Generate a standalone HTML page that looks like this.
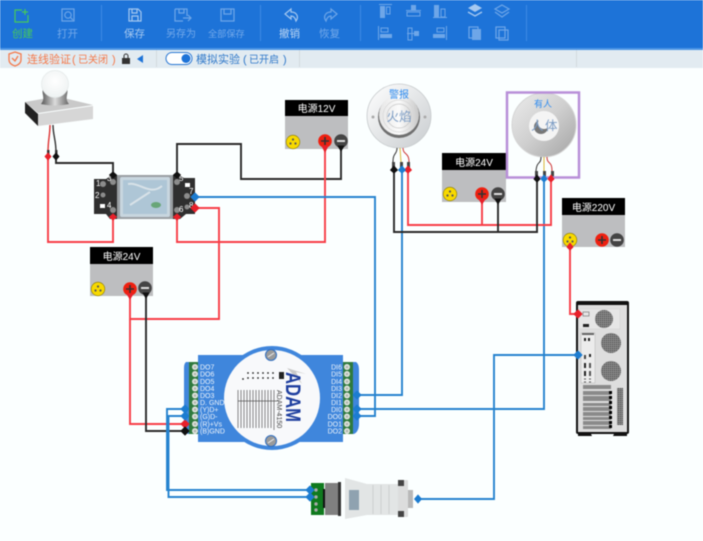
<!DOCTYPE html>
<html><head><meta charset="utf-8"><style>
html,body{margin:0;padding:0;background:#fbffff;width:703px;height:541px;overflow:hidden}
svg{display:block;filter:blur(.5px)}
text{font-family:"Liberation Sans","Noto Sans CJK SC",sans-serif}
.w{fill:none;stroke-width:1.9}
.r{stroke:#f73d47}.k{stroke:#2a2a2a}.b{stroke:#2583cf}
.i{fill:none;stroke:#6ea6e8;stroke-width:1.2}
.f{fill:#6ea6e8}
.h{fill:#fff;font-size:10px}
.g{font-size:7px;fill:#eef4fb}
</style></head><body>
<svg width="703" height="541" viewBox="0 0 703 541" xmlns="http://www.w3.org/2000/svg">
<defs>
<radialGradient id="bulb" cx=".5" cy=".4" r=".6"><stop offset="0" stop-color="#fff"/><stop offset="1" stop-color="#eef2f2"/></radialGradient>
<linearGradient id="neck" x1="0" x2="1"><stop offset="0" stop-color="#555"/><stop offset=".5" stop-color="#ddd"/><stop offset="1" stop-color="#666"/></linearGradient>
<linearGradient id="disc" x1="0" y1="0" x2="1" y2="1"><stop offset="0" stop-color="#fff"/><stop offset="1" stop-color="#c8cccf"/></linearGradient>
<linearGradient id="disc2" x1="0" y1="0" x2="1" y2="1"><stop offset="0" stop-color="#ececec"/><stop offset=".5" stop-color="#cfcfcf"/><stop offset="1" stop-color="#a3a3a3"/></linearGradient>
<linearGradient id="disc3" x1="0" x2="1"><stop offset="0" stop-color="#e6e6e6"/><stop offset=".5" stop-color="#fbfbfb"/><stop offset="1" stop-color="#c7c7c7"/></linearGradient>
<pattern id="mesh" width="2" height="2" patternUnits="userSpaceOnUse"><rect width="2" height="2" fill="#8c8c8c"/><rect width="1" height="1" fill="#444"/></pattern>
<g id="yel"><circle r="6.8" fill="#f7d900" stroke="#8a7a00" stroke-width=".6"/><circle cy="-2.500" r="1.100" fill="#555"/><circle cx="-2.500" cy="1.500" r="1.100" fill="#555"/><circle cx="2.500" cy="1.500" r="1.100" fill="#555"/></g>
<g id="plus"><circle r="6.800" fill="#ee2010"/><path d="M-4 0H4M0-4V4" stroke="#333" stroke-width="1.600"/></g>
<g id="minus"><circle r="6.800" fill="#444"/><path d="M-4 0H4" stroke="#ddd" stroke-width="2"/></g>
<g id="hole"><circle r="3" fill="#dfe3dd"/><circle r="1.300" fill="#b0b6ae"/></g>
</defs>

<!-- toolbar -->
<rect width="703" height="48" fill="#1d73d8"/>
<rect y="48" width="703" height="2" fill="#4b95e6"/>
<rect y="50" width="703" height="18" fill="#e2ebf1"/>
<rect y="68" width="703" height="473" fill="#fbffff"/>
<g fill="#3d8ae4"><rect x="101" y="5" width="1" height="36"/><rect x="260" y="5" width="1" height="36"/><rect x="360" y="5" width="1" height="36"/><rect x="526" y="5" width="1" height="36"/></g>
<rect x="156" y="50" width="1" height="17" fill="#d2dade"/><rect x="299" y="50" width="1" height="17" fill="#d2dade"/><rect x="576" y="50" width="1" height="17" fill="#d2dade"/>

<path d="M22 10H15V22H28V15M25 9V15M22 12H28" fill="none" stroke="#46c95a" stroke-width="1.200"/>
<rect x="62" y="9" width="12" height="12" class="i"/><circle cx="68" cy="15" r="3.200" class="i"/><path d="M70 17l3 3" class="i"/>
<path d="M129 9H138L141 12V21H129Z M132 9V13H137V9 M132 21V16H138V21" class="i" style="stroke:#a5c8f0"/>
<path d="M175 9H187V16 M175 9V21H183 M179 9V13H184V9 M183 18H191M188 15L191 18L188 21" class="i"/>
<path d="M221 9H234V21H221Z M224 9V14H231V9" class="i"/>
<path d="M285 14L291 9V12C297 12 299 17 296 21C295 17 293 16 291 16V19Z" fill="none" stroke="#a5c8f0" stroke-width="1.200"/>
<path d="M337 14L331 9V12C325 12 323 17 326 21C327 17 329 16 331 16V19Z" class="i"/>
<g>
<text x="12" y="37" fill="#46c95a" font-size="10.5">创建</text>
<text x="57" y="37" fill="#73a9ea" font-size="10.5">打开</text>
<text x="124" y="37" fill="#a5c8f0" font-size="10.5">保存</text>
<text x="166" y="37" fill="#73a9ea" font-size="10">另存为</text>
<text x="208" y="37" fill="#73a9ea" font-size="9.2">全部保存</text>
<text x="279" y="37" fill="#bcd6f3" font-size="10.5">撤销</text>
<text x="319" y="37" fill="#73a9ea" font-size="10.5">恢复</text>
</g>
<!-- alignment icons -->
<g class="f">
<rect x="379" y="4" width="13" height="1"/><rect x="380" y="6" width="5" height="12"/>
<rect x="386.500" y="7" width="3.500" height="7" fill="none" stroke="#6ea6e8"/>
<rect x="411" y="5" width="5" height="5"/><rect x="407" y="12" width="13" height="4" fill="none" stroke="#6ea6e8"/><rect x="406" y="10" width="15" height="1"/>
<rect x="434" y="5" width="5" height="12"/><rect x="441" y="9" width="4" height="8" fill="none" stroke="#6ea6e8"/><rect x="433" y="17" width="14" height="1"/>
<rect x="378" y="26" width="1" height="14"/><rect x="380" y="34" width="12" height="4"/><rect x="381" y="28" width="7" height="4" fill="none" stroke="#6ea6e8"/>
<rect x="408" y="28" width="4" height="12" fill="none" stroke="#6ea6e8"/><rect x="414" y="31" width="5" height="5"/><rect x="407" y="33" width="12" height="1"/>
<rect x="446" y="26" width="1" height="14"/><rect x="433" y="34" width="12" height="4"/><rect x="437" y="28" width="7" height="4" fill="none" stroke="#6ea6e8"/>
</g>
<path d="M475 4L482 8L475 12L468 8Z" fill="#a5c8f0"/><path d="M468 12L475 16L482 12" fill="none" stroke="#a5c8f0" stroke-width="1.400"/>
<path d="M502 5L509 9L502 13L495 9Z" class="i"/><path d="M495 12L502 17L509 12" class="i"/>
<rect x="469" y="27" width="9" height="11" class="i"/><rect x="472" y="29" width="9" height="11" fill="#6ea6e8"/>
<rect x="496" y="27" width="9" height="11" class="i"/><rect x="499" y="30" width="9" height="10" class="i" fill="#1d73d8"/>

<!-- status bar -->
<path d="M15 52L21 54V60C21 63 18 65 15 66C12 65 9 63 9 60V54Z M12 58L15 61L18 56" fill="none" stroke="#f4794a" stroke-width="1.300"/>
<g font-size="11" fill="#f4794a"><text x="27" y="63">连线验证</text><text x="72" y="63">(</text><text x="78" y="63" font-size="10">已关闭</text><text x="112" y="63">)</text></g>
<rect x="122" y="58" width="8" height="6" fill="#333"/><path d="M124 58V56A2 2 0 0 1 128 56V58" fill="none" stroke="#333"/>
<path d="M143 55V63L137 59Z" fill="#1d73d8"/>
<rect x="166" y="52.500" width="26" height="12" rx="6" fill="#fff" stroke="#2a78d4"/><circle cx="186" cy="58.500" r="4.500" fill="#1d73d8"/>
<g font-size="11" fill="#2f78c9"><text x="196" y="63">模拟实验</text><text x="243" y="63">(</text><text x="249" y="63" font-size="10">已开启</text><text x="283" y="63">)</text></g>

<!-- wires -->
<g class="w">
<path class="k" d="M56 157V163H113V175"/>
<path class="r" d="M48 157V242H113V217"/>
<path class="k" d="M177 175V144H241V179H341V149"/>
<path class="r" d="M325 149V242H177V217"/>
<path class="b" d="M195 197H375V416H357"/>
<path class="r" d="M195 208H219V319H130V293"/>
<path class="r" d="M130 319V424H185"/>
<path class="k" d="M146 295V431H185"/>
<path class="b" d="M402 170V395H357"/>
<path class="b" d="M544 179V409H357"/>
<path class="r" d="M408 170V225H551V179"/>
<path class="k" d="M394 170V232H537V179"/>
<path class="r" d="M482 200V225"/>
<path class="k" d="M498 200V232"/>
<path class="r" d="M570 246V314H578"/>
<path class="b" d="M578 355H494V499H418"/>
<path class="b" d="M185 409H167V490H310"/>
<path class="b" d="M185 416H168.500V497H310"/>
</g>

<!-- lamp -->
<path d="M25 102L42 99H68L93 105L38 113Z" fill="#c9c9c9"/>
<path d="M25 102L38 114V126L25 113Z" fill="#222"/>
<path d="M38 114L93 106V119L38 126Z" fill="#d6d6d6"/>
<path d="M43 88C41 94 46 98 41 104C50 106 60 106 69 104C64 98 69 94 67 88Z" fill="url(#neck)"/>
<circle cx="55" cy="84" r="13.500" fill="url(#bulb)" stroke="#e4e9e9" stroke-width=".7"/>
<path d="M50 125C50 135 48 140 48 152" fill="none" stroke="#d33" stroke-width="1.400"/>
<path d="M53 125C53 135 56 140 56 152" fill="none" stroke="#333" stroke-width="1.400"/>
<rect x="47" y="150" width="2.500" height="6" fill="#333"/><rect x="55" y="150" width="2.500" height="6" fill="#333"/>

<!-- relay -->
<path d="M94 179H106L112 175H118V219H110L106 214H94Z" fill="#2f2f2f"/>
<path d="M172 175H178L184 178H195V214H186L180 219H172Z" fill="#2f2f2f"/>
<rect x="117" y="175" width="56" height="44" fill="#9a9fa3"/>
<rect x="120" y="177" width="50" height="40" rx="2" fill="#c8d6df"/>
<rect x="123" y="180" width="44" height="34" fill="#aec6d6"/>
<path d="M128 184C140 182 150 196 162 186M130 205L150 192" stroke="#d8e2e8" stroke-width="2" fill="none"/>
<ellipse cx="156" cy="205" rx="5" ry="3" fill="#68a678"/>
<g fill="#8c8c8c"><circle cx="103" cy="184" r="3"/><circle cx="113" cy="182" r="3"/><circle cx="103" cy="195" r="2.500"/><circle cx="113" cy="210" r="3"/><circle cx="177" cy="182" r="3"/><circle cx="187" cy="196" r="3"/><circle cx="177" cy="210" r="3"/><circle cx="187" cy="207" r="2.500"/></g>
<rect x="100" y="204" width="5" height="4" fill="#fff"/><rect x="185" y="183" width="5" height="4" fill="#fff"/>
<g fill="#fff" font-size="8"><text x="96" y="186">1</text><text x="95" y="198">2</text><text x="107" y="181">3</text><text x="107" y="208">4</text><text x="179" y="181">5</text><text x="179" y="212">6</text><text x="189" y="194">7</text><text x="189" y="208">8</text></g>

<!-- power 12V -->
<rect x="285" y="100" width="63" height="49" fill="#bdbec0"/><rect x="285" y="100" width="63" height="16" fill="#000"/>
<text x="316.500" y="112" class="h" text-anchor="middle">电源12V</text>
<use href="#yel" x="293" y="142"/><use href="#plus" x="325" y="141"/><use href="#minus" x="341" y="141"/>
<!-- power 24V left -->
<rect x="90" y="247" width="63" height="49" fill="#bdbec0"/><rect x="90" y="247" width="63" height="17" fill="#000"/>
<text x="121.500" y="260" class="h" text-anchor="middle">电源24V</text>
<use href="#yel" x="98" y="289"/><use href="#plus" x="130" y="289"/><use href="#minus" x="145" y="288"/>
<!-- power 24V right -->
<rect x="442" y="153" width="64" height="49" fill="#bdbec0"/><rect x="442" y="153" width="64" height="17" fill="#000"/>
<text x="474" y="166" class="h" text-anchor="middle">电源24V</text>
<use href="#yel" x="450" y="194"/><use href="#plus" x="482" y="194"/><use href="#minus" x="498" y="194"/>
<!-- power 220V -->
<rect x="562" y="198" width="63" height="49" fill="#bdbec0"/><rect x="562" y="198" width="63" height="17" fill="#000"/>
<text x="593.500" y="211" class="h" text-anchor="middle">电源220V</text>
<use href="#yel" x="570" y="240"/><use href="#plus" x="602" y="240"/><use href="#minus" x="617" y="240"/>

<!-- flame sensor -->
<circle cx="399" cy="116" r="32" fill="url(#disc)" stroke="#c6cacc" stroke-width=".8"/>
<circle cx="399" cy="117" r="21" fill="#6f6f6f"/>
<circle cx="399" cy="115" r="20" fill="url(#disc3)"/>
<circle cx="399" cy="116" r="12" fill="none" stroke="#c8c8c8" stroke-width=".7"/><circle cx="399" cy="116" r="16" fill="none" stroke="#d6d6d6" stroke-width=".7"/>
<circle cx="373" cy="117" r="1.500" fill="#aaa"/><circle cx="425" cy="117" r="1.500" fill="#aaa"/>
<text x="399" y="98" font-size="10" fill="#2f8cf0" text-anchor="middle">警报</text>
<text x="399" y="121" font-size="12.500" fill="#7c9cc4" text-anchor="middle">火焰</text>
<path d="M397 148C397 155 393 152 393 162" stroke="#333" fill="none"/><path d="M400 148L401 162" stroke="#d9b83a" fill="none"/><path d="M403 148C403 155 409 152 409 162" stroke="#c33" fill="none"/>
<rect x="392" y="162" width="3" height="6" fill="#444"/><rect x="400" y="162" width="3" height="6" fill="#444"/><rect x="407" y="162" width="3" height="6" fill="#444"/>

<!-- body sensor -->
<circle cx="544" cy="125" r="32" fill="url(#disc2)" stroke="#d5d5d5"/>
<circle cx="544" cy="126" r="15" fill="#f4f4f4"/>
<circle cx="541" cy="127" r="7" fill="#777"/><circle cx="544" cy="123" r="6" fill="#f4f4f4"/>
<text x="543" y="107" font-size="9" fill="#2f8cf0" text-anchor="middle">有人</text>
<text x="531" y="130" font-size="12.500" fill="#7c9cc4">人</text><text x="545" y="130" font-size="12.500" fill="#7c9cc4">体</text>
<path d="M541 157C541 165 537 160 536 171" stroke="#333" fill="none"/><path d="M544 157V171" stroke="#d9b83a" fill="none"/><path d="M547 157C547 165 552 160 552 171" stroke="#c33" fill="none"/>
<rect x="535" y="171" width="3" height="6" fill="#444"/><rect x="543" y="171" width="3" height="6" fill="#444"/><rect x="551" y="171" width="3" height="6" fill="#444"/>
<rect x="507" y="92.500" width="72" height="85" fill="none" stroke="#b88fd8" stroke-width="2.500"/>

<!-- ADAM -->
<path d="M189 362H186C184 364 184 366 184 370V426C184 430 186 434 189 434Z" fill="#3f86dc"/>
<path d="M353 362H356C359 364 359 368 359 372V424C359 430 356 434 353 434Z" fill="#3f86dc"/>
<rect x="198" y="355" width="145" height="87" fill="#3f86dc"/>
<circle cx="272" cy="398" r="52" fill="#3f86dc"/>
<circle cx="272" cy="398" r="48" fill="#f8f9fb"/>
<rect x="189" y="362" width="9" height="72" fill="#2f7a3e"/><rect x="343" y="362" width="10" height="72" fill="#2f7a3e"/>
<use href="#hole" x="195" y="367"/><use href="#hole" x="195" y="374"/><use href="#hole" x="195" y="381.500"/><use href="#hole" x="195" y="388.500"/><use href="#hole" x="195" y="395.500"/><use href="#hole" x="195" y="402.500"/><use href="#hole" x="195" y="409.500"/><use href="#hole" x="195" y="416.500"/><use href="#hole" x="195" y="424"/><use href="#hole" x="195" y="431"/>
<use href="#hole" x="347" y="367"/><use href="#hole" x="347" y="374"/><use href="#hole" x="347" y="381.500"/><use href="#hole" x="347" y="388.500"/><use href="#hole" x="347" y="395.500"/><use href="#hole" x="347" y="402.500"/><use href="#hole" x="347" y="409.500"/><use href="#hole" x="347" y="416.500"/><use href="#hole" x="347" y="424"/><use href="#hole" x="347" y="431"/>
<g class="g">
<text x="200" y="369.500">DO7</text><text x="200" y="376.500">DO6</text><text x="200" y="384">DO5</text><text x="200" y="391">DO4</text><text x="200" y="398">DO3</text><text x="200" y="405">D. GND</text><text x="200" y="412">(Y)D+</text><text x="200" y="419">(G)D-</text><text x="200" y="426.500">(R)+Vs</text><text x="200" y="433.500">(B)GND</text>
</g>
<g class="g" text-anchor="end">
<text x="342" y="369.500">DI6</text><text x="342" y="376.500">DI5</text><text x="342" y="384">DI4</text><text x="342" y="391">DI3</text><text x="342" y="398">DI2</text><text x="342" y="405">DI1</text><text x="342" y="412">DI0</text><text x="342" y="419">DO0</text><text x="342" y="426.500">DO1</text><text x="342" y="433.500">DO2</text>
</g>
<circle cx="271" cy="355" r="5.500" fill="#9a9a9a" stroke="#2f6ec0" stroke-width="1"/><path d="M268 357L274 353" stroke="#eee"/>
<circle cx="271" cy="441" r="5.500" fill="#9a9a9a" stroke="#2f6ec0" stroke-width="1"/><path d="M268 443L274 439" stroke="#eee"/>
<path d="M287 368L306 374L296 372L302 384Z" fill="#c9c9c9"/>
<text transform="translate(286,372) rotate(90)" font-size="21" font-weight="bold" fill="#1f3f9f" textLength="50" lengthAdjust="spacingAndGlyphs">ADAM</text>
<text transform="translate(277,390) rotate(90)" font-size="7" fill="#444">ADAM-4150</text>
<rect x="279" y="372" width="5" height="7" fill="#222"/>
<g fill="#222"><circle cx="248" cy="373" r=".9"/><circle cx="253" cy="373" r=".9"/><circle cx="258" cy="373" r=".9"/><circle cx="263" cy="373" r=".9"/><circle cx="268" cy="373" r=".9"/><circle cx="273" cy="373" r=".9"/><circle cx="248" cy="378" r=".9"/><circle cx="253" cy="378" r=".9"/><circle cx="258" cy="378" r=".9"/><circle cx="263" cy="378" r=".9"/><circle cx="268" cy="378" r=".9"/><circle cx="273" cy="378" r=".9"/><circle cx="243" cy="379" r=".9"/></g>
<g stroke="#555" stroke-width=".7"><path d="M238 390V428M241 390V428M244 390V428M247 390V428M250 390V428M253 390V428M256 390V428M259 390V428M262 390V428M265 390V428M268 390V428M271 390V428M274 390V430"/><path d="M238 401H278"/></g>

<!-- converter -->
<rect x="311" y="483" width="13" height="32" fill="#0f7a1e"/>
<g fill="#aaa"><circle cx="316" cy="490" r="1.700"/><circle cx="316" cy="497" r="1.700"/><circle cx="316" cy="504" r="1.700"/><circle cx="316" cy="510" r="1.700"/></g>
<rect x="323" y="489" width="2" height="19" fill="#111"/>
<rect x="325" y="483" width="16" height="32" fill="#808080"/>
<rect x="338" y="482" width="3" height="34" fill="#333"/>
<path d="M345 478L367 484H400V515H367L345 519Z" fill="#e2e5e5"/>
<rect x="349" y="490" width="10" height="20" fill="#8fa2b0"/>
<path d="M373 485V514M381 485V514M389 485V514" stroke="#c6caca" stroke-width=".8"/>
<rect x="398" y="480" width="10" height="37" rx="1" fill="#dcdddd"/>
<rect x="398" y="480" width="6" height="6" fill="#444"/><rect x="398" y="511" width="6" height="6" fill="#444"/>
<rect x="408" y="490" width="5" height="18" fill="#b8b8b8"/>

<!-- computer -->
<rect x="576" y="301" width="53" height="133" rx="2" fill="#111"/>
<path d="M578 432H590L592 436H613L615 432H627V436H578Z" fill="#111"/>
<rect x="578" y="305" width="49" height="127" fill="#dedede"/>
<rect x="579" y="309" width="41" height="20" fill="#e6e6e6" stroke="#cfcfcf" stroke-width=".5"/>
<rect x="583" y="312" width="6" height="4" fill="none" stroke="#777" stroke-width=".7"/>
<rect x="583" y="324" width="6" height="3" fill="#222"/>
<circle cx="604" cy="319" r="9" fill="url(#mesh)"/><circle cx="611" cy="343" r="10" fill="url(#mesh)"/><circle cx="611" cy="371" r="10" fill="url(#mesh)"/>
<rect x="581" y="333" width="14" height="50" fill="#ececec" stroke="#aaa" stroke-width=".4"/>
<rect x="582" y="333" width="12" height="2" fill="#666"/>
<rect x="584" y="338" width="2" height="3" fill="#222"/><rect x="588" y="338" width="2" height="3" fill="#222"/>
<rect x="584" y="355" width="2" height="4" fill="#444"/><rect x="589" y="354" width="2" height="3" fill="#222"/>
<rect x="584" y="363" width="2" height="5" fill="#222"/><rect x="589" y="363" width="2" height="5" fill="#555"/>
<rect x="584" y="371" width="2" height="5" fill="#222"/><rect x="589" y="371" width="2" height="5" fill="#555"/>
<path d="M584 379h2M589 379h2M584 382h2M589 382h2" stroke="#555"/>
<g fill="#8a8a8a"><rect x="583" y="385" width="28" height="4"/><rect x="583" y="391" width="28" height="4"/><rect x="583" y="396" width="28" height="5"/><rect x="583" y="403" width="28" height="3"/><rect x="583" y="407" width="28" height="4"/><rect x="583" y="412" width="28" height="4"/><rect x="583" y="417" width="28" height="3"/><rect x="583" y="421" width="28" height="4"/><rect x="583" y="426" width="28" height="3"/></g>
<g fill="#000"><rect x="609" y="391" width="3" height="3"/><rect x="609" y="396" width="3" height="3"/><rect x="609" y="401" width="3" height="3"/><rect x="609" y="406" width="3" height="3"/><rect x="609" y="411" width="3" height="3"/><rect x="609" y="416" width="3" height="3"/><rect x="609" y="421" width="3" height="3"/><rect x="609" y="425" width="3" height="3"/></g>
<rect x="617" y="388" width="6" height="37" fill="url(#mesh)"/>

<!-- connector dots -->
<g fill="#e8202a" stroke="#e8202a" stroke-width=".9" stroke-linejoin="round">
<path d="M48 153L51 156.500L48 160L45 156.500Z"/><path d="M113 214L116.500 217L113 220L109.500 217Z"/><path d="M177 214L180.500 217L177 220L173.500 217Z"/><path d="M195 204L199 208L195 212L191 208Z"/><path d="M408 166L411.500 170L408 173L404.500 170Z"/><path d="M551 175L554 179L551 182L548 179Z"/><path d="M185 420L189 424L185 428L181 424Z"/><path d="M570 243L573 247L570 250L567 247Z"/><path d="M578 310L582 314L578 318L574 314Z"/>
<path d="M322 146L325 152L328 146Z"/><path d="M127 294L130 299L133 294Z"/><path d="M479 199L482 204L485 199Z"/>
</g>
<g fill="#111" stroke="#111" stroke-width=".9" stroke-linejoin="round">
<path d="M56 153L59 156.500L56 160L53 156.500Z"/><path d="M113 172L116.500 175L113 178L109.500 175Z"/><path d="M177 172L180.500 175L177 178L173.500 175Z"/><path d="M394 166L397.500 170L394 173L390.500 170Z"/><path d="M537 175L540 179L537 182L534 179Z"/><path d="M185 427L189 431L185 435L181 431Z"/>
<path d="M338 146L341 151L344 146Z"/><path d="M143 293L146 298L149 293Z"/><path d="M495 199L498 204L501 199Z"/>
</g>
<g fill="#1c7cd0" stroke="#1c7cd0" stroke-width=".9" stroke-linejoin="round">
<path d="M195 193L199 197L195 201L191 197Z"/><path d="M402 166L405.500 170L402 173L398.500 170Z"/><path d="M544 175L547 179L544 182L541 179Z"/>
<path d="M185 405L189 409L185 413L181 409Z"/><path d="M185 412L189 416L185 420L181 416Z"/>
<path d="M357 391L361 395L357 399L353 395Z"/><path d="M357 405L361 409L357 413L353 409Z"/><path d="M357 412L361 416L357 420L353 416Z"/>
<path d="M310 486L314 490L310 494L306 490Z"/><path d="M310 493L314 497L310 501L306 497Z"/>
<path d="M418 495L421.500 499L418 503L414.500 499Z"/><path d="M578 351L582 355L578 359L574 355Z"/>
</g>
</svg>
</body></html>
